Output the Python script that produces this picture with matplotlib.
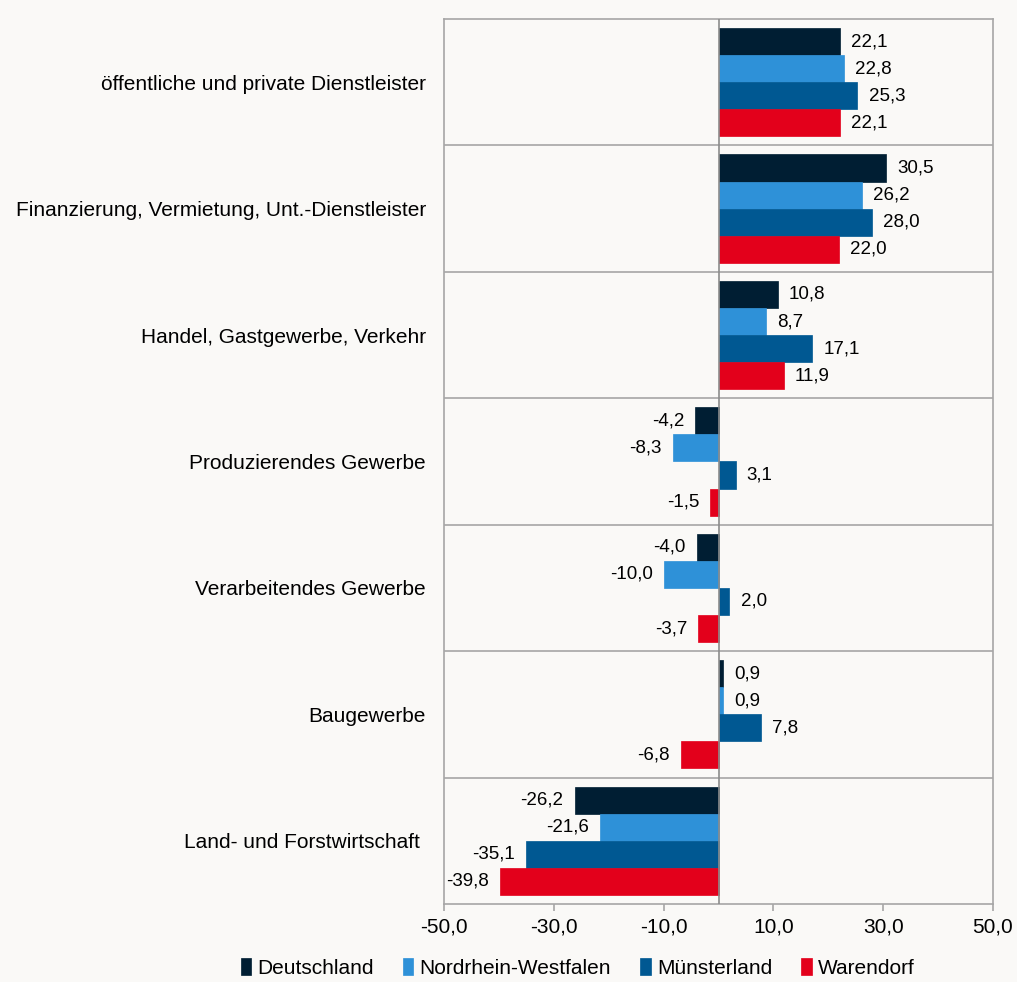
import numpy as np
import matplotlib as mpl
mpl.use("Agg")
import matplotlib.pyplot as plt

mpl.rcParams["font.family"] = ["Liberation Sans", "DejaVu Sans"]

# data
categories = ["öffentliche und private Dienstleister",
              "Finanzierung, Vermietung, Unt.-Dienstleister",
              "Handel, Gastgewerbe, Verkehr",
              "Produzierendes Gewerbe",
              "Verarbeitendes Gewerbe",
              "Baugewerbe",
              "Land- und Forstwirtschaft "]
series = ["Deutschland", "Nordrhein-Westfalen", "Münsterland", "Warendorf"]
deutschland = [22.1, 30.5, 10.8, -4.2, -4.0, 0.9, -26.2]
nrw = [22.8, 26.2, 8.7, -8.3, -10.0, 0.9, -21.6]
muensterland = [25.3, 28.0, 17.1, 3.1, 2.0, 7.8, -35.1]
warendorf = [22.1, 22.0, 11.9, -1.5, -3.7, -6.8, -39.8]
xticks = [-50, -30, -10, 10, 30, 50]

colors = ["#001e33", "#2e91d8", "#005892", "#e3001b"]
bg = "#faf9f7"
gridc = "#a6a6a6"

fig = plt.figure(figsize=(10.17, 9.82), dpi=100, facecolor=bg)
ax = fig.add_axes([0.4366, 0.0794, 0.5398, 0.9013], facecolor=bg)

y = np.arange(len(categories))
h = 0.214
offsets = [-1.5*h, -0.5*h, 0.5*h, 1.5*h]
handles = []
for vals, off, col, name in zip([deutschland, nrw, muensterland, warendorf],
                                offsets, colors, series):
    bars = ax.barh(y + off, vals, height=h, color=col, label=name,
                   edgecolor=col, linewidth=0.5, zorder=2)
    handles.append(bars)
    for yy, v in zip(y + off, vals):
        txt = ("%.1f" % v).replace(".", ",")
        if v >= 0:
            ax.annotate(txt, (v, yy), xytext=(8, 0), textcoords="offset points",
                        ha="left", va="center", fontsize=13.5)
        else:
            ax.annotate(txt, (v, yy), xytext=(-8, 0), textcoords="offset points",
                        ha="right", va="center", fontsize=13.5)

ax.set_xlim(-50, 50)
ax.set_ylim(len(categories) - 0.5, -0.5)
for b in np.arange(0.5, len(categories) - 0.5, 1):
    ax.axhline(b, color=gridc, linewidth=1.2, zorder=1)
ax.axvline(0, color="#8c8c8c", linewidth=1.2, zorder=3)

ax.set_yticks(y)
ax.set_yticklabels(categories, fontsize=15)
ax.tick_params(axis="y", length=0, pad=13)
ax.set_xticks(xticks)
ax.set_xticklabels([("%.1f" % t).replace(".", ",") for t in xticks], fontsize=15)
ax.tick_params(axis="x", direction="out", length=5, width=1.2, color=gridc, pad=5)

for s in ax.spines.values():
    s.set_color(gridc)
    s.set_linewidth(1.2)

fig.legend(handles=handles, labels=series, loc="center",
           bbox_to_anchor=(0.568, 0.0143), ncol=4, frameon=False, fontsize=15,
           handlelength=0.5, handleheight=0.9, handletextpad=0.3,
           columnspacing=1.4)

plt.savefig("out.png", dpi=100, facecolor=bg)
